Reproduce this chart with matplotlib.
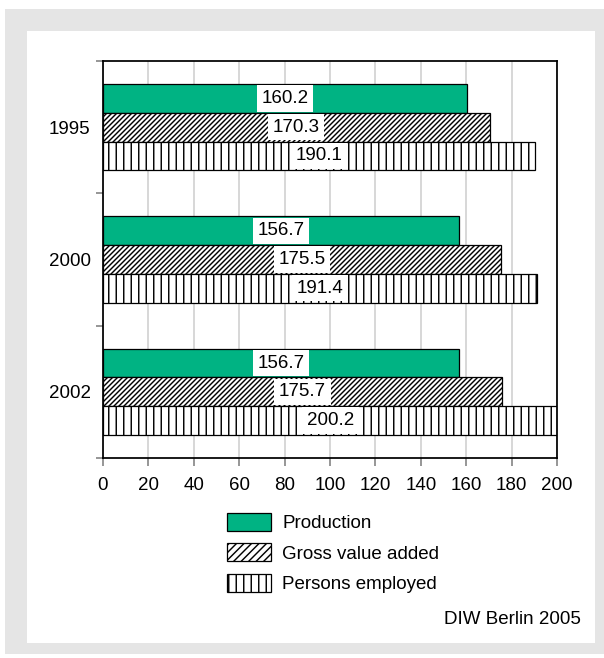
import matplotlib
matplotlib.use("Agg")
import matplotlib.pyplot as plt
from matplotlib.patches import Rectangle, Patch
import numpy as np

years = ["1995", "2000", "2002"]
production = [160.2, 156.7, 156.7]
gross_value_added = [170.3, 175.5, 175.7]
persons_employed = [190.1, 191.4, 200.2]
series_names = ["Production", "Gross value added", "Persons employed"]
x_ticks = [0, 20, 40, 60, 80, 100, 120, 140, 160, 180, 200]

DPI = 90
W, H = 604, 658
FS = 15
plt.rcParams['font.family'] = ['Liberation Sans', 'DejaVu Sans']
plt.rcParams['hatch.linewidth'] = 1.15

fig = plt.figure(figsize=(W / DPI, H / DPI), dpi=DPI, facecolor='white')

def px_rect(x0, y0, x1, y1, color, z):
    fig.patches.append(Rectangle((x0 / W, 1 - y1 / H), (x1 - x0) / W, (y1 - y0) / H,
                                 transform=fig.transFigure, facecolor=color,
                                 edgecolor='none', zorder=z))

px_rect(5, 9, 604, 654, '#e5e5e5', -10)
px_rect(27, 31, 595, 643, 'white', -9)

ax = fig.add_axes([103 / W, 1 - 458 / H, (557 - 103) / W, (458 - 61) / H])
ax.set_facecolor('none')

green = '#00b383'
bh = 0.217
pos = np.arange(len(years))
styles = [dict(color=green, hatch=None), dict(color='white', hatch='//////'), dict(color='white', hatch='||')]
data = [production, gross_value_added, persons_employed]
offsets = [-bh, 0, bh]
for vals, st, off, name in zip(data, styles, offsets, series_names):
    bars = ax.barh(pos + off, vals, height=bh, facecolor=st['color'], edgecolor='black',
                   linewidth=1.0, hatch=st['hatch'], zorder=3, label=name)
    for b, v in zip(bars, vals):
        ax.text(v / 2, b.get_y() + b.get_height() / 2, f"{v:.1f}", ha='center', va='center',
                fontsize=FS, zorder=5,
                bbox=dict(boxstyle='square,pad=0.25', facecolor='white', edgecolor='none'))

ax.set_xlim(0, 200)
ax.set_ylim(len(years) - 0.5, -0.5)
ax.set_xticks(x_ticks)
ax.set_xticklabels([str(t) for t in x_ticks], fontsize=FS)
ax.set_yticks(pos)
ax.set_yticklabels(years, fontsize=FS)
ax.set_yticks(np.arange(len(years) + 1) - 0.5, minor=True)
ax.tick_params(axis='y', which='major', length=0, pad=10)
ax.tick_params(axis='y', which='minor', length=6, color='#777777', width=1.2)
ax.tick_params(axis='x', which='major', length=6, color='#777777', width=1.2, pad=9)
ax.grid(axis='x', color='#d0d0d0', linewidth=1.3, zorder=0)
for s in ax.spines.values():
    s.set_color('black')
    s.set_linewidth(1.4)
    s.set_zorder(4)

leg_handles = [Patch(facecolor=green, edgecolor='black', linewidth=1.0, label=series_names[0]),
               Patch(facecolor='white', edgecolor='black', linewidth=1.0, hatch='////', label=series_names[1]),
               Patch(facecolor='white', edgecolor='black', linewidth=1.0, hatch='||', label=series_names[2])]
fig.legend(handles=leg_handles, loc='upper left', bbox_to_anchor=(227 / W, 1 - 513 / H),
           frameon=False, fontsize=FS, handlelength=2.35, handleheight=1.07,
           handletextpad=0.59, labelspacing=0.6, borderpad=0, borderaxespad=0)

fig.text(581 / W, 1 - 620 / H, "DIW Berlin 2005", ha='right', va='center', fontsize=FS)

fig.savefig("out.png", dpi=DPI, facecolor=fig.get_facecolor())
